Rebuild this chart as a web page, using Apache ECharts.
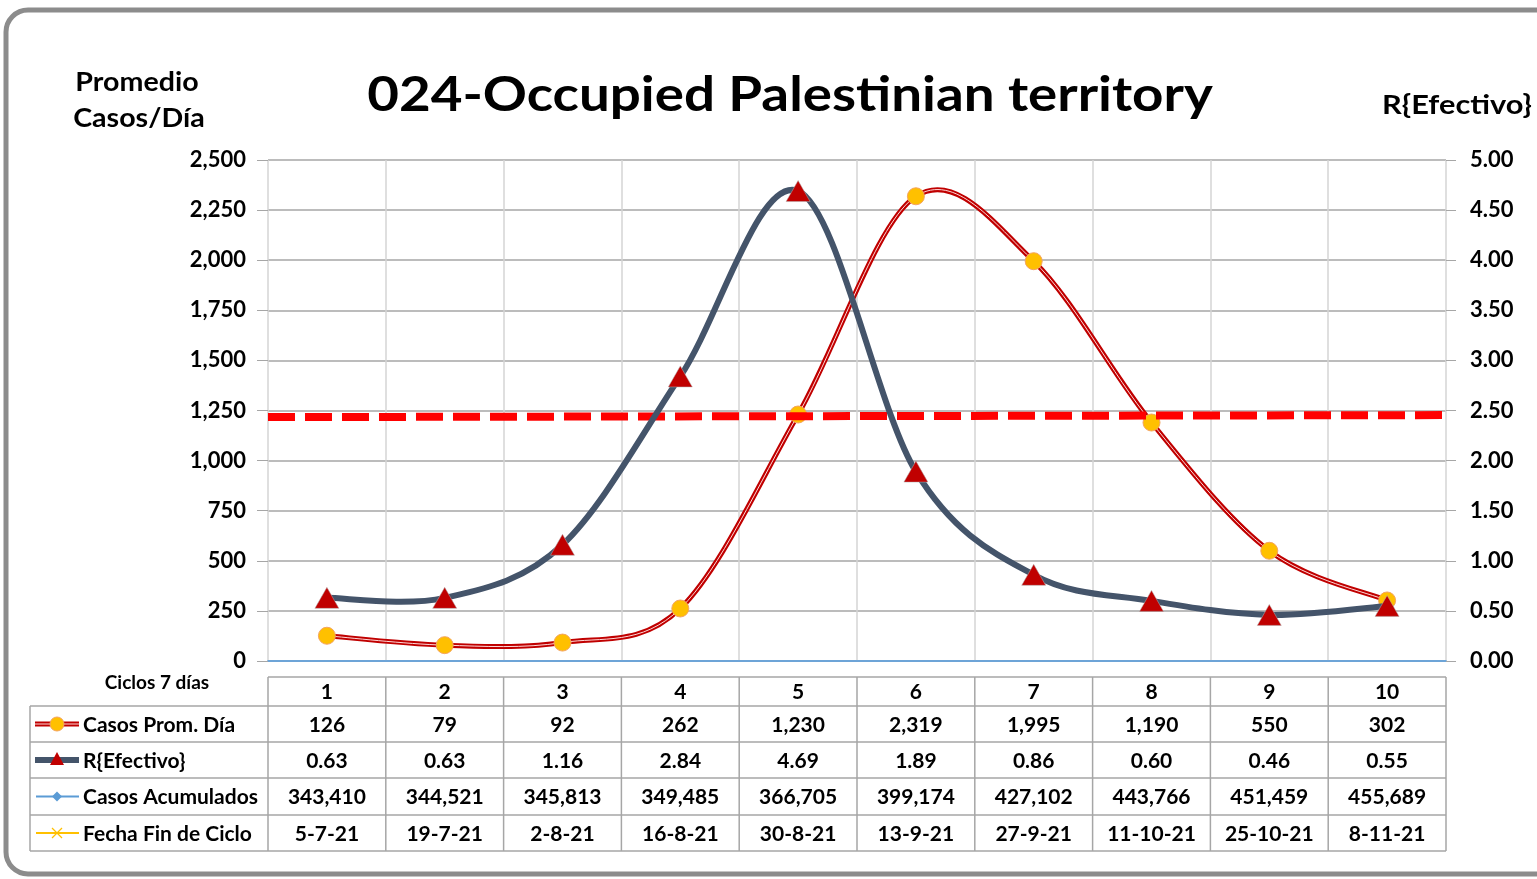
<!DOCTYPE html>
<html>
<head>
<meta charset="utf-8">
<script src="https://cdn.jsdelivr.net/npm/echarts@6/dist/echarts.min.js"></script>
<style>
  html, body { margin: 0; padding: 0; background: #fff; }
  #chart { width: 1537px; height: 879px; }
</style>
</head>
<body>
<div id="chart"></div>
<script>
// data
const cycles = ['1', '2', '3', '4', '5', '6', '7', '8', '9', '10']
const casosProm = [126, 79, 92, 262, 1230, 2319, 1995, 1190, 550, 302]
const rEfectivo = [0.63, 0.63, 1.16, 2.84, 4.69, 1.89, 0.86, 0.60, 0.46, 0.55]
const casosAcum = [343410, 344521, 345813, 349485, 366705, 399174, 427102, 443766, 451459, 455689]
const fechaFin = ['5-7-21', '19-7-21', '2-8-21', '16-8-21', '30-8-21', '13-9-21', '27-9-21', '11-10-21', '25-10-21', '8-11-21']
const refLine = [1217, 1227] // red dashed line, left axis value at start / end

const FONT = 'Lato'
const fmt = v => v.toLocaleString('en-US')

const chart = echarts.init(document.getElementById('chart'))

// excel-like smoothed curve (catmull-rom -> bezier) through the axis coords
const smoothPath = (values, api) => {
  const p = values.map((v, i) => api.coord([i, v]))
  const n = p.length
  let d = 'M' + p[0][0] + ' ' + p[0][1]
  for (let i = 0; i < n - 1; i++) {
    const p0 = p[Math.max(i - 1, 0)]
    const p1 = p[i]
    const p2 = p[i + 1]
    const p3 = p[Math.min(i + 2, n - 1)]
    const c1 = [p1[0] + (p2[0] - p0[0]) / 6, p1[1] + (p2[1] - p0[1]) / 6]
    const c2 = [p2[0] - (p3[0] - p1[0]) / 6, p2[1] - (p3[1] - p1[1]) / 6]
    d += ' C' + c1[0] + ' ' + c1[1] + ' ' + c2[0] + ' ' + c2[1] + ' ' + p2[0] + ' ' + p2[1]
  }
  return d
}

const curveSeries = (values, yAxisIndex, color, width, z) => ({
  type: 'custom',
  yAxisIndex: yAxisIndex,
  data: [[0, values[0]]],
  z: z,
  silent: true,
  renderItem: (params, api) => ({
    type: 'path',
    shape: { pathData: smoothPath(values, api) },
    style: { stroke: color, lineWidth: width, fill: 'none', lineCap: 'round', lineJoin: 'round' }
  })
})

const option = {
  animation: false,
  backgroundColor: '#fff',
  textStyle: { fontFamily: FONT },
  grid: { left: 268, right: 91, top: 160, bottom: 218 },
  xAxis: [
    {
      type: 'category',
      data: cycles,
      boundaryGap: true,
      axisLine: { lineStyle: { color: '#9DC3E6', width: 1.5 } },
      axisTick: { show: false },
      axisLabel: { show: false },
      splitLine: { show: true, interval: 0, lineStyle: { color: '#D4D4D4', width: 1.5 } }
    },
    {
      type: 'value',
      min: 0,
      max: 10,
      position: 'top',
      axisLine: { show: true, lineStyle: { color: '#5B9BD5', width: 1.5 } },
      axisTick: { show: false },
      axisLabel: { show: false },
      splitLine: { show: false }
    }
  ],
  yAxis: [
    {
      type: 'value',
      min: 0,
      max: 2500,
      interval: 250,
      axisLine: { show: false },
      axisTick: { show: true, length: 11, lineStyle: { color: '#A6A6A6' } },
      axisLabel: {
        margin: 22, color: '#000', fontSize: 22, fontWeight: 'bold', fontFamily: FONT,
        formatter: v => fmt(v)
      },
      splitLine: { lineStyle: { color: '#A6A6A6', width: 1.5 } }
    },
    {
      type: 'value',
      min: 0,
      max: 5,
      interval: 0.5,
      position: 'right',
      axisLine: { show: false },
      axisTick: { show: true, length: 10, lineStyle: { color: '#A6A6A6' } },
      axisLabel: {
        margin: 24, color: '#000', fontSize: 22, fontWeight: 'bold', fontFamily: FONT,
        formatter: v => v.toFixed(2)
      },
      splitLine: { show: false }
    }
  ],
  series: [
    curveSeries(casosProm, 0, '#C00000', 5, 2),
    curveSeries(casosProm, 0, '#FFD9D9', 1, 3),
    {
      name: 'Casos Prom. Día',
      type: 'line',
      data: casosProm,
      symbol: 'circle',
      symbolSize: 17,
      z: 4,
      itemStyle: { color: '#FFC000', borderColor: '#F4A460', borderWidth: 1 },
      lineStyle: { width: 0, opacity: 0 }
    },
    {
      name: 'Referencia',
      type: 'line',
      xAxisIndex: 1,
      data: [[0, refLine[0]], [10, refLine[1]]],
      symbol: 'none',
      z: 5,
      lineStyle: { color: '#FF0000', width: 8, type: [27, 10] }
    },
    curveSeries(rEfectivo, 1, '#44546A', 6, 6),
    {
      name: 'R{Efectivo}',
      type: 'line',
      yAxisIndex: 1,
      data: rEfectivo,
      symbol: 'triangle',
      symbolSize: [24, 21],
      z: 7,
      itemStyle: { color: '#C00000', borderColor: '#B0B0B0', borderWidth: 0.5 },
      lineStyle: { width: 0, opacity: 0 }
    }
  ]
}

chart.setOption(option)

// table under the plot, built from the same arrays
const cx = cycles.map((c, i) => chart.convertToPixel({ xAxisIndex: 0 }, i))
const colW = cx[1] - cx[0]
const bounds = cx.map(x => x - colW / 2).concat([cx[cx.length - 1] + colW / 2])
const tableLeft = 30
const rowLines = [677, 706, 742, 778, 815, 851]
const lineColor = '#A6A6A6'

const g = []
const txt = (x, y, text, align, size, sx) => ({
  type: 'text', x: x, y: y, z: 10, scaleX: sx || 1,
  style: {
    text: text, fill: '#000', font: 'bold ' + (size || 20) + 'px ' + FONT,
    align: align || 'center', verticalAlign: 'middle'
  }
})
const ln = (x1, y1, x2, y2, color, w, z) => ({
  type: 'line', z: z || 10,
  shape: { x1: x1, y1: y1, x2: x2, y2: y2 },
  style: { stroke: color, lineWidth: w || 1.5 }
})

// outer rounded frame
g.push({
  type: 'rect', z: 0,
  shape: { x: 6, y: 10, width: 1600, height: 864, r: 22 },
  style: { fill: 'none', stroke: '#8C8C8C', lineWidth: 5 }
})

// titles
g.push(txt(790, 96, '024-Occupied Palestinian territory', 'center', 48, 1.14))
g.push(txt(137, 83, 'Promedio', 'center', 26, 1.1))
g.push(txt(139, 119, 'Casos/Día', 'center', 26, 1.1))
g.push(txt(1457, 105, 'R{Efectivo}', 'center', 27, 1.14))
g.push(txt(157, 683, 'Ciclos 7 días', 'center', 19))

// grid lines of the table
g.push(ln(bounds[0], rowLines[0], bounds[bounds.length - 1], rowLines[0], lineColor))
for (let r = 1; r < rowLines.length; r++) {
  g.push(ln(tableLeft, rowLines[r], bounds[bounds.length - 1], rowLines[r], lineColor))
}
g.push(ln(tableLeft, rowLines[1], tableLeft, rowLines[5], lineColor))
bounds.forEach(x => g.push(ln(x, rowLines[0], x, rowLines[5], lineColor)))

const rowMid = r => (rowLines[r] + rowLines[r + 1]) / 2
const rows = [
  cycles,
  casosProm.map(fmt),
  rEfectivo.map(v => v.toFixed(2)),
  casosAcum.map(fmt),
  fechaFin
]
rows.forEach((vals, r) => {
  vals.forEach((v, i) => g.push(txt(cx[i], rowMid(r) + 1, v, 'center', 21)))
})

// row names with legend keys
const names = ['Casos Prom. Día', 'R{Efectivo}', 'Casos Acumulados', 'Fecha Fin de Ciclo']
names.forEach((n, k) => g.push(txt(83, rowMid(k + 1) + 1, n, 'left', 21)))

let y = rowMid(1)
g.push(ln(35, y, 79, y, '#C00000', 5, 11))
g.push(ln(35, y, 79, y, '#FFD9D9', 1, 12))
g.push({ type: 'circle', z: 13, shape: { cx: 57, cy: y, r: 7 }, style: { fill: '#FFC000', stroke: '#F4A460', lineWidth: 1 } })

y = rowMid(2)
g.push(ln(35, y, 79, y, '#44546A', 6, 11))
g.push({ type: 'polygon', z: 13, shape: { points: [[57, y - 8], [64, y + 5], [50, y + 5]] }, style: { fill: '#C00000' } })

y = rowMid(3)
g.push(ln(36, y, 79, y, '#5B9BD5', 2, 11))
g.push({ type: 'polygon', z: 13, shape: { points: [[57, y - 5], [62, y], [57, y + 5], [52, y]] }, style: { fill: '#5B9BD5' } })

y = rowMid(4)
g.push(ln(36, y, 79, y, '#FFC000', 2, 11))
g.push(ln(52, y - 5, 62, y + 5, '#FFC000', 1.2, 12))
g.push(ln(52, y + 5, 62, y - 5, '#FFC000', 1.2, 12))

chart.setOption({ graphic: g })
</script>
</body>
</html>
